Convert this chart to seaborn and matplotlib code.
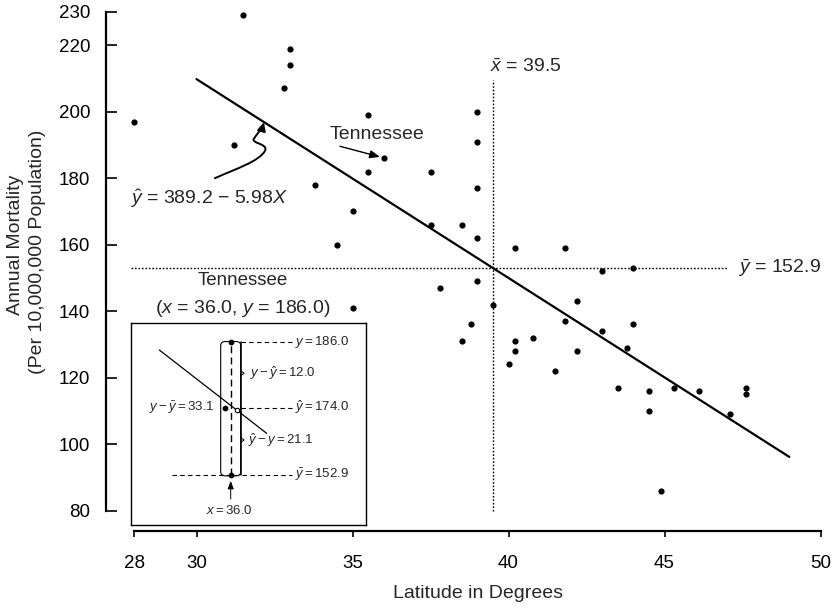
import numpy as np
import pandas as pd
import matplotlib
matplotlib.use("Agg")
import matplotlib.pyplot as plt
import seaborn as sns
from matplotlib.patches import FancyArrowPatch, FancyBboxPatch
from matplotlib.path import Path

# ---------------- data ----------------
latitude = [31.5, 28.0, 33.0, 33.0, 32.8, 31.2, 35.5, 36.0, 35.5, 33.8, 35.0, 34.5,
            39.0, 39.0, 37.5, 39.0, 37.5, 38.5, 39.0, 40.2, 41.8, 43.0, 44.0, 37.8, 39.0,
            35.0,
            39.5, 38.8, 38.5, 42.2, 41.8, 43.0, 44.0, 40.2, 40.2, 40.8, 40.0, 42.2, 41.5,
            43.8, 43.5, 44.5, 44.5, 45.3, 46.1, 47.1, 47.6, 47.6, 44.9]
mortality = [229, 197, 219, 214, 207, 190, 199, 186, 182, 178, 170, 160,
             200, 191, 182, 177, 166, 166, 162, 159, 159, 152, 153, 147, 149,
             141,
             142, 136, 131, 143, 137, 134, 136, 131, 128, 132, 124, 128, 122,
             129, 117, 116, 110, 117, 116, 109, 117, 115, 86]

intercept = 389.2
slope = -5.98
line_x = [30.0, 49.0]
x_mean = 39.5
y_mean = 152.9
tenn_x, tenn_y = 36.0, 186.0

x_ticks = [28, 30, 35, 40, 45, 50]
y_ticks = [80, 100, 120, 140, 160, 180, 200, 220, 230]

# ---------------- style ----------------
sns.set_theme(style="ticks")
plt.rcParams["font.family"] = ["Liberation Sans", "DejaVu Sans"]
plt.rcParams["mathtext.fontset"] = "custom"
plt.rcParams["mathtext.rm"] = "Liberation Sans"
plt.rcParams["mathtext.it"] = "Liberation Sans:italic"
plt.rcParams["mathtext.bf"] = "Liberation Sans:bold"

fig = plt.figure(figsize=(8.32, 6.08), dpi=100)
W, H = 832, 608
ax = fig.add_axes([134.1 / W, 1 - 510.7 / H, (820.5 - 134.1) / W, (510.7 - 11.95) / H])

df = pd.DataFrame({"lat": latitude, "mort": mortality})
sns.scatterplot(data=df, x="lat", y="mort", ax=ax, color="black", s=20,
                edgecolor="black", linewidth=0, clip_on=False, zorder=3)

line_y = [intercept + slope * v for v in line_x]
sns.lineplot(x=line_x, y=line_y, ax=ax, color="black", lw=1.6, zorder=2)

dot = (0, (1.2, 1.3))
ax.plot([x_mean, x_mean], [80, 209.5], color="black", lw=1.0, ls=dot, clip_on=False)
ax.plot([27.9, 47.0], [y_mean, y_mean], color="black", lw=1.0, ls=dot, clip_on=False)

ax.set_xlim(28, 50)
ax.set_ylim(80, 230)
ax.set_xticks(x_ticks)
ax.set_yticks(y_ticks)
ax.set_xticklabels([str(t) for t in x_ticks])
ax.set_yticklabels([str(t) for t in y_ticks])
ax.set_xlabel("")
ax.set_ylabel("")

sns.despine(ax=ax)
ax.spines["left"].set_position(("outward", 20.2))
ax.spines["bottom"].set_position(("outward", 14.6))
ax.spines["left"].set_bounds(80, 230)
ax.spines["bottom"].set_bounds(28, 50)
for s in ("left", "bottom"):
    ax.spines[s].set_linewidth(1.6)
    ax.spines[s].set_color("black")
ax.tick_params(axis="y", direction="in", length=8, width=1.2, pad=11.5,
               labelsize=13.5, colors="black")
ax.tick_params(axis="x", direction="out", length=4, width=1.2, pad=13,
               labelsize=13.5, colors="black")

# labels
fig.text(478 / W, 1 - 593 / H, "Latitude in Degrees", ha="center", va="center", fontsize=14)
fig.text(16 / W, 1 - 245 / H, "Annual Mortality", rotation=90, ha="center", va="center", fontsize=14)
fig.text(38 / W, 1 - 252 / H, "(Per 10,000,000 Population)", rotation=90, ha="center",
         va="center", fontsize=14)

# annotations
ax.text(39.41, 213.5, r"$\bar{x}$ = 39.5", ha="left", va="center", fontsize=14)
ax.text(47.36, y_mean, r"$\bar{y}$ = 152.9", ha="left", va="center", fontsize=14)
ax.text(27.87, 174.0, r"$\hat{y}$ = 389.2 − 5.98$X$", ha="left", va="center",
        fontsize=14, clip_on=False)
ax.text(34.28, 193.0, "Tennessee", ha="left", va="center", fontsize=14)
ax.annotate("", xy=(35.88, 186.4), xytext=(34.6, 189.6),
            arrowprops=dict(arrowstyle="-|>,head_length=0.5,head_width=0.2",
                            color="black", lw=1.0, shrinkA=0, shrinkB=0))
ax.text(31.49, 149.1, "Tennessee", ha="center", va="center", fontsize=13.5)
ax.text(31.49, 140.9, r"($x$ = 36.0, $y$ = 186.0)", ha="center", va="center", fontsize=14)

# squiggly arrow to the regression line
verts = [(30.59, 180.0), (31.3, 183.0), (32.0, 185.0), (32.2, 188.3),
         (32.3, 190.5), (31.7, 190.5), (31.85, 192.0),
         (31.95, 193.5), (32.1, 194.8), (32.16, 196.8)]
codes = [Path.MOVETO, Path.CURVE4, Path.CURVE4, Path.CURVE4,
         Path.CURVE4, Path.CURVE4, Path.CURVE4,
         Path.CURVE4, Path.CURVE4, Path.CURVE4]
sq = FancyArrowPatch(path=Path(verts, codes), arrowstyle="-|>,head_length=5,head_width=2.5",
                     color="black", lw=1.4, transform=ax.transData, clip_on=False)
ax.add_patch(sq)

# ---------------- inset ----------------
ins = fig.add_axes([130.7 / W, 1 - 525 / H, 235.3 / W, 202.3 / H])
ins.set_xlim(0, 1)
ins.set_ylim(0, 1)
ins.set_xticks([])
ins.set_yticks([])
ins.set_facecolor("white")
for s in ins.spines.values():
    s.set_visible(True)
    s.set_color("black")
    s.set_linewidth(1.0)

xc = 0.425
y_top, y_hat, y_bot = 0.903, 0.58, 0.247
ins.plot([0.1216, 0.578], [0.865, 0.453], color="black", lw=0.9)
ins.plot([xc, xc], [y_bot, y_top], color="black", lw=1.0, ls=(0, (5, 3)))
box = FancyBboxPatch((0.3825, y_bot - 0.004), 0.085, y_top - y_bot + 0.008,
                     boxstyle="round,pad=0,rounding_size=0.02", fill=False,
                     ec="black", lw=0.8, transform=ins.transAxes)
ins.add_patch(box)
ins.plot([0.4675, 0.4675], [y_bot, y_top], color="black", lw=1.1)
dash = (0, (4, 3))
ins.plot([0.4675, 0.684], [y_top, y_top], color="black", lw=0.8, ls=dash)
ins.plot([0.4675, 0.684], [y_hat, y_hat], color="black", lw=0.8, ls=dash)
ins.plot([0.174, 0.684], [y_bot, y_bot], color="black", lw=0.8, ls=dash)
ins.scatter([xc, xc, 0.40], [y_top, y_bot, y_hat], s=10, color="black", zorder=4)
ins.scatter([0.45], [y_hat - 0.01], s=10, facecolor="white", edgecolor="black",
            lw=0.8, zorder=4)
for yb in (0.75, 0.42):
    ins.plot([0.4675, 0.482, 0.4675], [yb + 0.012, yb, yb - 0.012], color="black", lw=0.7)

fs = 9.5
ins.text(0.698, y_top, r"$y = 186.0$", ha="left", va="center", fontsize=fs)
ins.text(0.698, y_hat, r"$\hat{y} = 174.0$", ha="left", va="center", fontsize=fs)
ins.text(0.698, y_bot, r"$\bar{y} = 152.9$", ha="left", va="center", fontsize=fs)
ins.text(0.507, 0.751, r"$y - \hat{y} = 12.0$", ha="left", va="center", fontsize=fs)
ins.text(0.358, y_hat, r"$y - \bar{y} = 33.1$", ha="right", va="center", fontsize=fs)
ins.text(0.50, 0.42, r"$\hat{y} - y = 21.1$", ha="left", va="center", fontsize=fs)
ins.text(0.419, 0.074, r"$x = 36.0$", ha="center", va="center", fontsize=fs)
ins.annotate("", xy=(xc, y_bot - 0.015), xytext=(xc, 0.115),
             arrowprops=dict(arrowstyle="-|>,head_length=0.4,head_width=0.15",
                             color="black", lw=0.7))

fig.savefig("out.png", dpi=100, facecolor="white")
